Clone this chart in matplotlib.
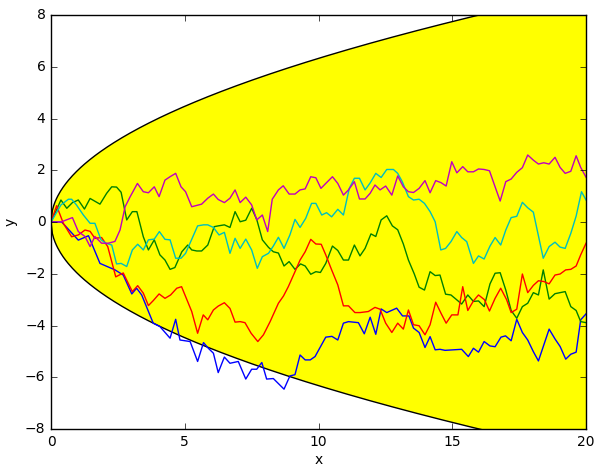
import numpy as np
import matplotlib
matplotlib.use("Agg")
import matplotlib.pyplot as plt

# random walks, (x, y) pairs
blue = [(0, 0), (0.4, 0.0), (1.02, -0.7), (1.4, -0.53), (1.83, -1.6), (2.39, -1.85), (2.7, -2.05),
        (3.02, -2.78), (3.2, -2.56), (3.39, -2.82), (3.82, -3.91), (4.07, -4.04), (4.45, -4.49),
        (4.66, -3.76), (4.82, -4.56), (5.2, -4.62), (5.48, -5.39), (5.7, -4.66), (5.88, -4.88),
        (6.07, -5.07), (6.25, -5.82), (6.48, -5.22), (6.69, -5.46), (7.0, -5.39), (7.28, -6.07),
        (7.5, -5.69), (7.69, -5.69), (7.88, -5.43), (8.06, -6.07), (8.31, -6.05), (8.71, -6.46),
        (8.93, -5.95), (9.12, -5.9), (9.31, -5.14), (9.5, -5.33), (9.69, -5.33), (9.87, -5.2),
        (10.27, -4.45), (10.5, -4.42), (10.72, -4.56), (10.93, -3.91), (11.12, -3.85), (11.49, -3.89),
        (11.71, -4.32), (11.93, -3.68), (12.14, -4.34), (12.34, -3.36), (12.55, -3.5), (12.92, -3.33),
        (13.14, -3.63), (13.38, -3.63), (13.55, -4.1), (13.76, -4.27), (13.98, -4.85), (14.17, -4.43),
        (14.36, -4.94), (14.54, -4.92), (14.73, -4.96), (15.35, -4.92), (15.6, -5.2), (15.79, -4.88),
        (15.98, -5.03), (16.19, -4.62), (16.41, -4.79), (16.6, -4.82), (16.82, -4.45), (16.99, -4.4),
        (17.2, -4.59), (17.41, -3.76), (17.62, -4.27), (17.82, -4.56), (18.03, -5.01), (18.22, -5.37),
        (18.62, -4.14), (18.84, -4.52), (19.03, -4.81), (19.24, -5.3), (19.43, -5.11), (19.63, -5.03),
        (19.8, -3.78), (20.0, -3.55)]

green = [(0, 0), (0.37, 0.85), (0.59, 0.53), (0.8, 0.75), (1.02, 0.85), (1.25, 0.5), (1.46, 0.91),
         (1.83, 0.69), (2.08, 1.11), (2.27, 1.36), (2.45, 1.35), (2.62, 1.15), (2.83, 0.08), (3.04, 0.4),
         (3.21, 0.4), (3.45, -0.57), (3.64, -1.08), (3.86, -0.69), (4.07, -1.27), (4.26, -1.47),
         (4.45, -1.83), (4.63, -1.76), (4.89, -1.15), (5.11, -0.89), (5.26, -1.08), (5.45, -1.12),
         (5.63, -1.12), (5.86, -0.89), (6.1, -0.18), (6.25, -0.15), (6.48, -0.11), (6.69, -0.21),
         (6.88, 0.4), (7.07, 0.01), (7.28, 0.07), (7.5, 0.53), (7.69, 0.1), (7.9, -0.69), (8.13, -0.98),
         (8.31, -1.15), (8.5, -1.2), (8.71, -1.7), (8.9, -1.53), (9.12, -1.83), (9.33, -1.62), (9.5, -1.7),
         (9.71, -2.02), (9.9, -1.92), (10.07, -1.95), (10.27, -1.6), (10.52, -0.93), (10.72, -1.1),
         (10.93, -1.47), (11.12, -1.47), (11.34, -0.89), (11.55, -1.31), (11.74, -1.02), (11.96, -0.46),
         (12.14, -0.56), (12.34, 0.08), (12.55, 0.24), (12.76, -0.15), (12.96, -0.3), (13.17, -0.85),
         (13.36, -1.47), (13.58, -2.01), (13.76, -2.52), (13.96, -2.63), (14.17, -1.92), (14.36, -2.07),
         (14.54, -2.05), (14.75, -2.79), (14.95, -2.82), (15.17, -3.01), (15.35, -3.17), (15.58, -2.82),
         (15.79, -3.07), (15.98, -3.05), (16.19, -3.27), (16.41, -2.39), (16.6, -1.98), (16.79, -1.96),
         (17.0, -2.63), (17.2, -3.42), (17.41, -3.72), (17.62, -3.27), (17.82, -3.14), (18.03, -2.73),
         (18.22, -2.82), (18.4, -1.85), (18.62, -2.98), (18.84, -2.77), (19.22, -2.69), (19.43, -3.27),
         (19.63, -3.42), (19.8, -3.85), (20.0, -3.89)]

red = [(0, 0), (0.21, 0.63), (0.46, -0.05), (0.77, -0.57), (1.02, -0.5), (1.27, -0.31), (1.46, -0.36),
       (1.64, -0.63), (1.89, -0.6), (2.12, -0.95), (2.42, -2.12), (2.7, -1.97), (3.04, -2.69),
       (3.24, -2.46), (3.45, -2.75), (3.64, -3.23), (3.82, -3.04), (4.04, -2.78), (4.26, -2.95),
       (4.47, -2.82), (4.7, -2.56), (4.88, -2.5), (5.26, -3.46), (5.48, -4.3), (5.69, -3.59),
       (5.86, -3.78), (6.07, -3.4), (6.25, -3.25), (6.48, -3.12), (6.69, -3.34), (6.88, -3.87),
       (7.07, -3.85), (7.25, -3.89), (7.48, -4.3), (7.73, -4.62), (7.94, -4.36), (8.19, -3.85),
       (8.5, -3.14), (8.69, -2.86), (8.87, -2.5), (9.12, -1.92), (9.31, -1.47), (9.5, -1.15),
       (9.71, -0.67), (9.9, -0.85), (10.1, -0.86), (10.27, -1.27), (10.49, -1.85), (10.72, -2.43),
       (10.93, -3.24), (11.12, -3.24), (11.36, -3.5), (11.55, -3.5), (11.86, -3.46), (12.11, -3.3),
       (12.3, -3.37), (12.51, -3.91), (12.74, -4.27), (12.96, -3.91), (13.17, -4.14), (13.36, -3.4),
       (13.55, -3.97), (13.76, -4.01), (13.98, -4.36), (14.17, -3.97), (14.38, -3.1), (14.58, -3.53),
       (14.77, -3.91), (14.98, -3.59), (15.21, -3.59), (15.39, -2.5), (15.58, -3.42), (15.79, -3.05),
       (15.98, -2.82), (16.2, -3.0), (16.39, -3.44), (16.6, -2.95), (16.81, -2.56), (17.03, -3.0),
       (17.2, -3.5), (17.41, -3.37), (17.62, -2.01), (17.82, -2.73), (18.03, -2.45), (18.22, -2.27),
       (18.42, -2.3), (18.62, -2.39), (18.84, -2.05), (19.03, -2.01), (19.24, -1.85), (19.43, -1.83),
       (19.63, -1.7), (19.8, -1.27), (20.0, -0.82)]

cyan = [(0, 0), (0.37, 0.66), (0.65, 0.88), (0.77, 0.88), (0.95, 0.66), (1.21, 0.27), (1.46, -0.05),
        (1.64, -0.05), (1.87, -0.69), (2.05, -0.82), (2.27, -0.89), (2.45, -1.62), (2.62, -1.6),
        (2.83, -1.72), (3.04, -1.08), (3.24, -0.86), (3.45, -1.08), (3.64, -0.69), (3.86, -0.66),
        (4.05, -0.37), (4.26, -0.67), (4.45, -0.69), (4.66, -1.4), (4.86, -1.4), (5.03, -1.21),
        (5.48, -0.15), (5.7, -0.11), (5.86, -0.11), (6.07, -0.21), (6.28, -0.5), (6.48, -0.4),
        (6.69, -1.21), (6.88, -0.63), (7.07, -1.02), (7.28, -0.66), (7.5, -1.08), (7.71, -1.79),
        (7.9, -1.34), (8.13, -1.21), (8.31, -0.93), (8.5, -0.59), (8.71, -1.02), (8.93, -0.5),
        (9.12, 0.1), (9.31, -0.21), (9.52, 0.14), (9.74, 0.72), (9.9, 0.72), (10.12, 0.27),
        (10.3, 0.36), (10.49, 0.2), (10.72, 0.49), (10.93, 0.27), (11.15, 1.3), (11.34, 1.69),
        (11.53, 1.69), (11.74, 1.24), (11.93, 1.51), (12.14, 1.88), (12.34, 1.72), (12.55, 2.03),
        (12.8, 2.03), (12.96, 1.88), (13.13, 1.56), (13.36, 0.98), (13.55, 0.85), (13.76, 0.88),
        (13.96, 0.72), (14.17, 0.4), (14.36, 0.01), (14.57, -1.08), (14.75, -1.02), (14.95, -0.76),
        (15.17, -0.37), (15.35, -0.6), (15.54, -0.76), (15.79, -1.6), (15.98, -1.31), (16.19, -1.43),
        (16.41, -0.93), (16.6, -0.6), (16.81, -0.89), (17.0, -0.31), (17.2, 0.17), (17.41, 0.22),
        (17.62, 0.76), (17.82, 0.55), (18.03, 0.38), (18.4, -1.4), (18.62, -0.95), (18.84, -0.78),
        (19.03, -0.97), (19.22, -1.02), (19.43, -0.44), (19.63, 0.23), (19.83, 1.17), (20.0, 0.85)]

magenta = [(0, 0), (0.37, 0.0), (0.8, 0.17), (1.02, -0.37), (1.27, -0.56), (1.46, -0.95), (1.64, -0.56),
           (1.89, -0.82), (2.14, -0.82), (2.39, -0.75), (2.58, -0.31), (2.77, 0.59), (2.96, 0.98),
           (3.23, 1.49), (3.45, 1.17), (3.64, 1.13), (3.86, 1.36), (4.04, 0.98), (4.26, 1.62),
           (4.45, 1.75), (4.66, 1.88), (4.86, 1.36), (5.03, 1.17), (5.26, 0.59), (5.63, 0.69),
           (5.86, 0.92), (6.07, 1.08), (6.25, 0.87), (6.48, 0.75), (6.69, 0.92), (6.88, 1.24),
           (7.07, 0.75), (7.28, 0.96), (7.5, 0.66), (7.69, 0.08), (7.9, 0.27), (8.1, -0.37), (8.27, 0.88),
           (8.5, 1.24), (8.68, 1.4), (8.9, 1.08), (9.12, 1.08), (9.31, 1.24), (9.5, 1.28), (9.71, 1.75),
           (9.9, 1.71), (10.09, 1.3), (10.27, 1.49), (10.52, 1.75), (10.72, 1.49), (10.93, 1.04),
           (11.12, 1.24), (11.34, 1.56), (11.53, 0.89), (11.74, 0.89), (11.93, 1.11), (12.11, 1.43),
           (12.3, 1.24), (12.51, 1.39), (12.74, 1.04), (12.96, 1.78), (13.17, 1.36), (13.36, 1.17),
           (13.55, 1.14), (13.76, 1.3), (13.98, 1.6), (14.17, 1.13), (14.38, 1.6), (14.58, 1.52),
           (14.77, 1.39), (14.98, 2.33), (15.17, 1.9), (15.39, 2.14), (15.58, 1.94), (15.79, 1.94),
           (15.98, 2.05), (16.19, 2.03), (16.39, 1.98), (16.6, 1.36), (16.79, 0.81), (17.0, 1.56),
           (17.2, 1.66), (17.41, 1.92), (17.62, 2.1), (17.82, 2.59), (18.03, 2.39), (18.22, 2.24),
           (18.42, 2.29), (18.62, 2.24), (18.84, 2.5), (19.03, 2.11), (19.22, 1.88), (19.43, 1.96),
           (19.63, 2.56), (19.8, 2.11), (20.0, 1.73)]

# envelope is +/- n_sigma * sqrt(t)
n_sigma = 2.0
t_max = 20

plt.style.use("classic")
plt.rcParams["font.size"] = 10

fig = plt.figure(figsize=(5.96, 4.66), dpi=100, facecolor="white")
ax = fig.add_axes([0.0856, 0.0794, 0.8977, 0.8884])

t = np.linspace(0, t_max, 400)
bound = n_sigma * np.sqrt(t)
ax.fill_between(t, -bound, bound, facecolor="yellow", edgecolor="none")
ax.plot(t, bound, color="black", lw=1)
ax.plot(t, -bound, color="black", lw=1)

for walk, c in [(blue, "b"), (green, "g"), (red, "r"), (cyan, "c"), (magenta, "m")]:
    xs, ys = zip(*walk)
    ax.plot(xs, ys, color=c, lw=1)

ax.set_xlim(0, 20)
ax.set_ylim(-8, 8)
ax.set_xticks([0, 5, 10, 15, 20])
ax.set_yticks(range(-8, 9, 2))
ax.set_xlabel("x", labelpad=3)
ax.set_ylabel("y")

fig.savefig("out.png", dpi=100, facecolor="white")
